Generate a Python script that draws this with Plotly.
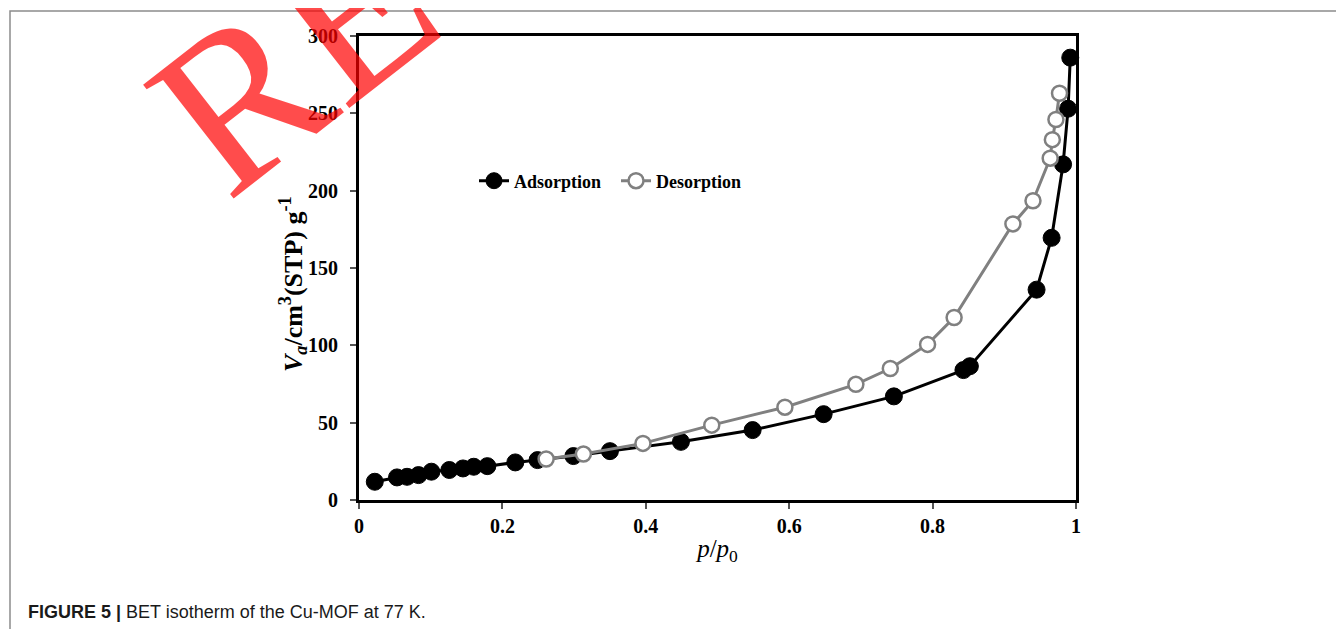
import plotly.graph_objects as go

# ---- data ----
ads_p = [0.022, 0.053, 0.067, 0.083, 0.101, 0.126, 0.145, 0.160, 0.179, 0.218, 0.249,
         0.299, 0.350, 0.449, 0.549, 0.648, 0.746, 0.843, 0.852, 0.945, 0.966, 0.982,
         0.989, 0.992]
ads_v = [11.8, 14.6, 15.0, 16.1, 18.3, 19.4, 20.4, 21.5, 21.9, 24.3, 25.8,
         28.4, 31.6, 37.6, 45.2, 55.5, 67.0, 84.0, 86.5, 136.0, 169.5, 217.0,
         253.0, 286.0]

des_p = [0.977, 0.972, 0.967, 0.964, 0.940, 0.912, 0.830, 0.793, 0.741, 0.693,
         0.594, 0.492, 0.396, 0.313, 0.261]
des_v = [263.0, 246.0, 233.0, 221.0, 193.5, 178.5, 118.0, 100.6, 85.0, 74.8,
         60.0, 48.4, 36.6, 29.7, 26.5]

x_ticks = [0, 0.2, 0.4, 0.6, 0.8, 1]
x_tick_text = ["0", "0.2", "0.4", "0.6", "0.8", "1"]
y_ticks = [0, 50, 100, 150, 200, 250, 300]

# page body has an 8px default margin, so figure pixel = screen pixel - 8
OFF = 8
W, H = 1336, 621
L, T = 359 - OFF, 36 - OFF
PW, PH = 717, 464
R, B = W - L - PW, H - T - PH


def px_x(sx):
    return (sx - OFF - L) / PW


def px_y(sy):
    return (T + PH - (sy - OFF)) / PH


serif = "Liberation Serif, Times New Roman, serif"

fig = go.Figure()
fig.add_trace(go.Scatter(
    x=ads_p, y=ads_v, name="Adsorption", mode="lines+markers",
    line=dict(color="black", width=3),
    marker=dict(symbol="circle", size=17, color="black", line=dict(color="black", width=1)),
    cliponaxis=False,
))
fig.add_trace(go.Scatter(
    x=des_p, y=des_v, name="Desorption", mode="lines+markers",
    line=dict(color="#808080", width=3),
    marker=dict(symbol="circle", size=15, color="white", line=dict(color="#808080", width=2.5)),
    cliponaxis=False,
))

fig.update_layout(
    width=W, height=H,
    margin=dict(l=L, r=R, t=T, b=B, autoexpand=False),
    paper_bgcolor="white", plot_bgcolor="white",
    font=dict(family=serif, color="black"),
    showlegend=True,
    legend=dict(
        orientation="h", x=px_x(474), y=px_y(181), xanchor="left", yanchor="middle",
        font=dict(family=serif, size=18, weight="bold", color="black"),
        bgcolor="rgba(0,0,0,0)", itemwidth=30,
        entrywidth=97, entrywidthmode="pixels",
    ),
    xaxis=dict(
        range=[0, 1], tickvals=x_ticks, ticktext=x_tick_text,
        showgrid=False, zeroline=False,
        showline=True, linecolor="black", linewidth=3, mirror=True,
        ticks="outside", ticklen=6, tickwidth=1.5, tickcolor="#555",
        tickfont=dict(family=serif, size=20, weight="bold", color="black"),
        ticklabelstandoff=0,
        title=dict(text="<i>p</i>/<i>p</i><sub>0</sub>", standoff=4,
                   font=dict(family=serif, size=25, color="black")),
        automargin=False,
    ),
    yaxis=dict(
        range=[0, 300], tickvals=y_ticks,
        showgrid=False, zeroline=False,
        showline=True, linecolor="black", linewidth=3, mirror=True,
        ticks="outside", ticklen=6, tickwidth=1.5, tickcolor="#555",
        tickfont=dict(family=serif, size=20, weight="bold", color="black"),
        ticklabelstandoff=8,
        automargin=False,
    ),
)

# y-axis title (placed as annotation to match its off-centre position)
fig.add_annotation(
    xref="paper", yref="paper", x=px_x(293), y=px_y(284), xanchor="center", yanchor="middle",
    showarrow=False, textangle=-90,
    text="<i>V</i><sub><i>a</i></sub>/cm<sup>3</sup>(STP) g<sup>-1</sup>",
    font=dict(family=serif, size=26, weight="bold", color="black"),
)

# outer figure frame
fig.add_shape(type="rect", xref="paper", yref="paper",
              x0=px_x(10), x1=px_x(1370), y0=px_y(660), y1=px_y(11),
              line=dict(color="#8c8c8c", width=1.5), fillcolor="rgba(0,0,0,0)", layer="below")

# caption
fig.add_annotation(
    xref="paper", yref="paper", x=px_x(26), y=px_y(612), xanchor="left", yanchor="middle",
    showarrow=False,
    text="<b>FIGURE 5 |</b> BET isotherm of the Cu-MOF at 77 K.",
    font=dict(family="Liberation Sans, Arial, sans-serif", size=18, color="#1a1a1a"),
)

# retraction stamp
fig.add_annotation(
    xref="paper", yref="paper", x=px_x(688 + OFF), y=px_y(-266 + OFF), xanchor="center", yanchor="middle",
    showarrow=False, text="RETRACTED", textangle=-38,
    font=dict(family=serif, size=222, color="rgba(255,0,0,0.7)"),
)

fig.write_html("out.html")
